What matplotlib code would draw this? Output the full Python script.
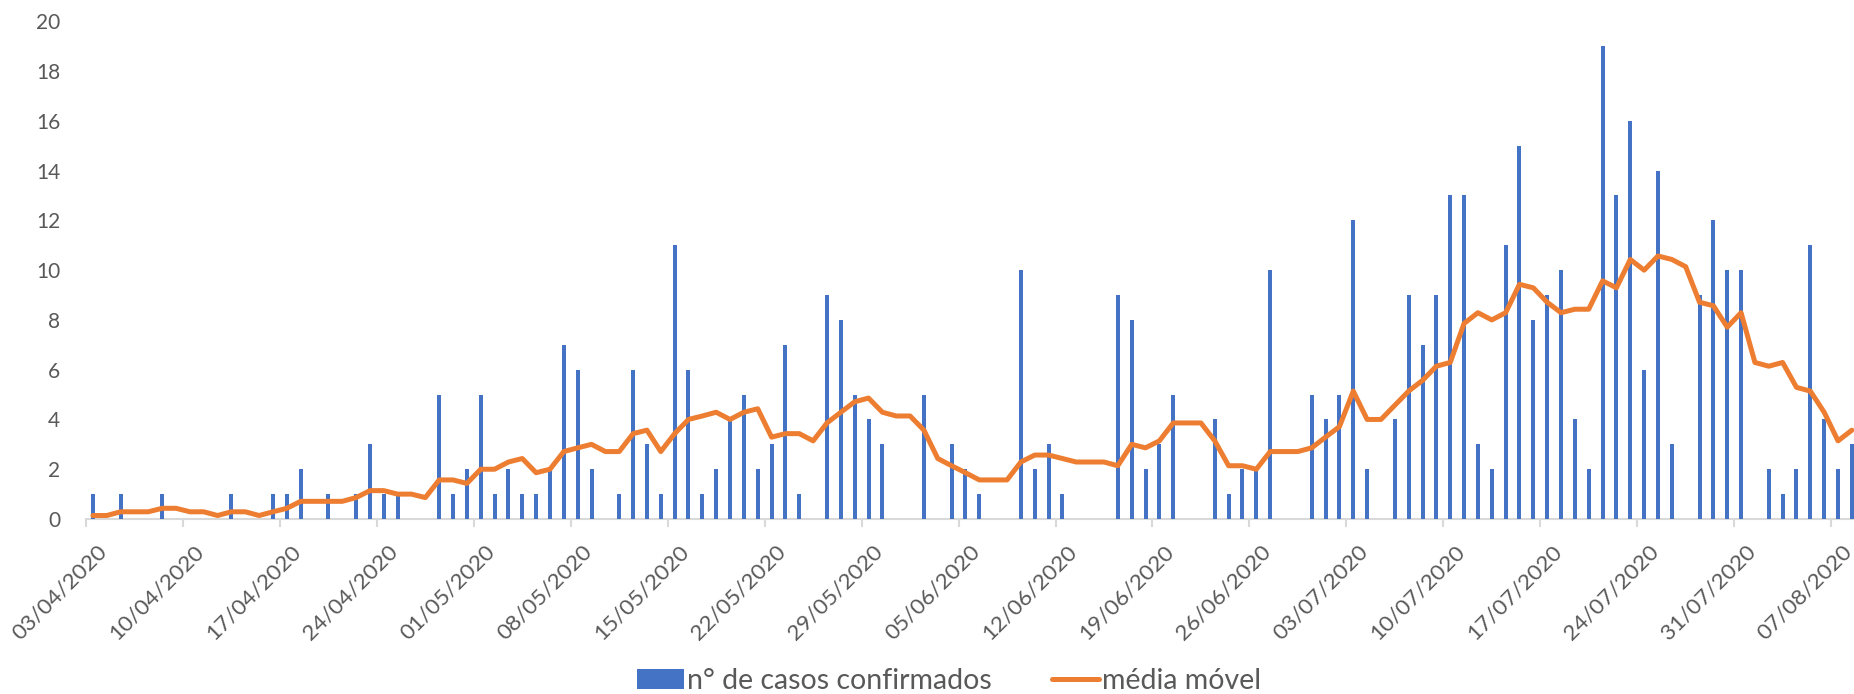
import matplotlib
matplotlib.use("Agg")
import matplotlib.pyplot as plt
import matplotlib.transforms as mtransforms
import numpy as np

# 数据：每日确诊病例数（03/04/2020 起，逐日）
casos = [1, 0, 1, 0, 0, 1, 0, 0, 0, 0,
         1, 0, 0, 1, 1, 2, 0, 1, 0, 1,
         3, 1, 1, 0, 0, 5, 1, 2, 5, 1,
         2, 1, 1, 2, 7, 6, 2, 0, 1, 6,
         3, 1, 11, 6, 1, 2, 4, 5, 2, 3,
         7, 1, 0, 9, 8, 5, 4, 3, 0, 0,
         5, 0, 3, 2, 1, 0, 0, 10, 2, 3,
         1, 0, 0, 0, 9, 8, 2, 3, 5, 0,
         0, 4, 1, 2, 2, 10, 0, 0, 5, 4,
         5, 12, 2, 0, 4, 9, 7, 9, 13, 13,
         3, 2, 11, 15, 8, 9, 10, 4, 2, 19,
         13, 16, 6, 14, 3, 0, 9, 12, 10, 10,
         0, 2, 1, 2, 11, 4, 2, 3]

# 移动平均
media_movel = [0.14, 0.14, 0.29, 0.29, 0.29, 0.43, 0.43, 0.29, 0.29, 0.14,
               0.29, 0.29, 0.14, 0.29, 0.43, 0.71, 0.71, 0.71, 0.71, 0.86,
               1.14, 1.14, 1.00, 1.00, 0.86, 1.57, 1.57, 1.43, 2.00, 2.00,
               2.29, 2.43, 1.86, 2.00, 2.71, 2.86, 3.00, 2.71, 2.71, 3.43,
               3.57, 2.71, 3.43, 4.00, 4.14, 4.29, 4.00, 4.29, 4.43, 3.29,
               3.43, 3.43, 3.14, 3.86, 4.29, 4.71, 4.86, 4.29, 4.14, 4.14,
               3.57, 2.43, 2.14, 1.86, 1.57, 1.57, 1.57, 2.29, 2.57, 2.57,
               2.43, 2.29, 2.29, 2.29, 2.14, 3.00, 2.86, 3.14, 3.86, 3.86,
               3.86, 3.14, 2.14, 2.14, 2.00, 2.71, 2.71, 2.71, 2.86, 3.29,
               3.71, 5.14, 4.00, 4.00, 4.57, 5.14, 5.57, 6.14, 6.29, 7.86,
               8.29, 8.00, 8.29, 9.43, 9.29, 8.71, 8.29, 8.43, 8.43, 9.57,
               9.29, 10.43, 10.00, 10.57, 10.43, 10.14, 8.71, 8.57, 7.71, 8.29,
               6.29, 6.14, 6.29, 5.29, 5.14, 4.29, 3.14, 3.57]

# x 轴刻度标签（每 7 天）
tick_labels = ["03/04/2020", "10/04/2020", "17/04/2020", "24/04/2020",
               "01/05/2020", "08/05/2020", "15/05/2020", "22/05/2020",
               "29/05/2020", "05/06/2020", "12/06/2020", "19/06/2020",
               "26/06/2020", "03/07/2020", "10/07/2020", "17/07/2020",
               "24/07/2020", "31/07/2020", "07/08/2020"]

BLUE = "#4472C4"
ORANGE = "#ED7D31"
GREY_TEXT = "#595959"
GREY_AXIS = "#D9D9D9"

plt.rcParams['font.family'] = ['Lato', 'DejaVu Sans']

W, H = 1854, 694
fig = plt.figure(figsize=(W / 100, H / 100), dpi=100)

left_px, right_px = 86, 1854
zero_px, top_px = 519, 21.3
ax = fig.add_axes([left_px / W, (H - zero_px) / H,
                   (right_px - left_px) / W, (zero_px - top_px) / H])

x = np.arange(len(casos))
bars = ax.bar(x, casos, width=0.286, color=BLUE, label="n° de casos confirmados", zorder=2)
line, = ax.plot(x, media_movel, color=ORANGE, linewidth=3.6, solid_joinstyle="round",
                solid_capstyle="round", label="média móvel", zorder=3)

day_px = 13.85
ax.set_xlim(-0.5, -0.5 + (right_px - left_px) / day_px)
ax.set_ylim(0, 20)

ax.set_yticks(np.arange(0, 21, 2))
ax.tick_params(axis="y", length=0, pad=18.5, labelsize=15, labelcolor=GREY_TEXT)

tick_pos = [-0.5 + 7 * k for k in range(len(tick_labels))]
ax.set_xticks(tick_pos)
ax.set_xticklabels(tick_labels, rotation=45, ha="right", va="top",
                   rotation_mode="anchor")
ax.tick_params(axis="x", length=6, width=1.5, color=GREY_AXIS, pad=0,
               labelsize=16.2, labelcolor=GREY_TEXT)
offset = mtransforms.ScaledTranslation(0.11, -0.14, fig.dpi_scale_trans)
for lab in ax.get_xticklabels():
    lab.set_transform(lab.get_transform() + offset)

for side in ["left", "right", "top"]:
    ax.spines[side].set_visible(False)
ax.spines["bottom"].set_color(GREY_AXIS)
ax.spines["bottom"].set_linewidth(1.5)
ax.spines["bottom"].set_zorder(1)

fig.legend(handles=[bars, line], loc="center", bbox_to_anchor=(949 / W, (H - 681) / H),
           ncol=2, frameon=False, fontsize=20.5, labelcolor=GREY_TEXT,
           handlelength=1.65, handleheight=0.7, handletextpad=0.1,
           columnspacing=2.1, borderaxespad=0, borderpad=0)

fig.savefig("out.png", dpi=100)
